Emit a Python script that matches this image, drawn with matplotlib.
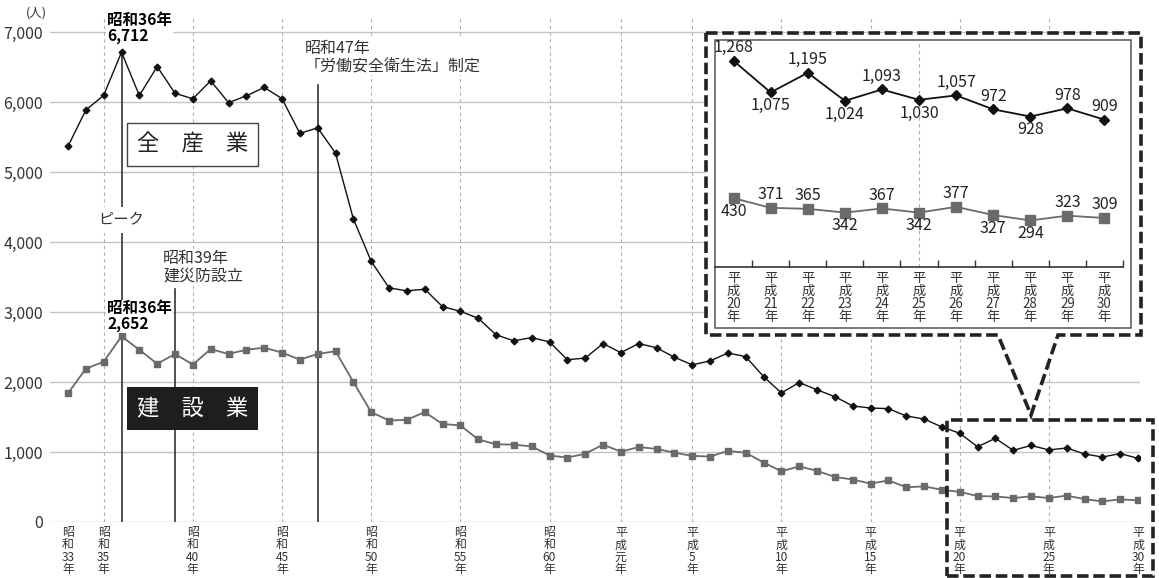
import numpy as np
import matplotlib
matplotlib.use("Agg")
import matplotlib.pyplot as plt
from matplotlib.patches import Polygon, Rectangle

plt.rcParams['font.family'] = ['Noto Sans CJK JP', 'DejaVu Sans']

# data (死亡者数)
years = np.arange(1958, 2019)
all_industry = [5368, 5885, 6095, 6712, 6093, 6506, 6124, 6046, 6303, 5990,
                6088, 6208, 6048, 5552, 5631, 5269, 4330, 3725, 3345, 3302,
                3326, 3077, 3009, 2912, 2674, 2588, 2635, 2572, 2318, 2342,
                2549, 2419, 2550, 2489, 2354, 2245, 2301, 2414, 2363, 2078,
                1844, 1992, 1889, 1790, 1658, 1628, 1620, 1514, 1472, 1357,
                1268, 1075, 1195, 1024, 1093, 1030, 1057, 972, 928, 978, 909]
construction = [1840, 2190, 2290, 2652, 2460, 2260, 2400, 2250, 2470, 2400,
                2460, 2490, 2420, 2320, 2400, 2440, 2000, 1570, 1450, 1460,
                1570, 1400, 1380, 1180, 1110, 1105, 1080, 950, 920, 975,
                1105, 1005, 1070, 1045, 990, 945, 935, 1015, 990, 850,
                725, 794, 731, 644, 607, 548, 594, 497, 508, 461,
                430, 371, 365, 342, 367, 342, 377, 327, 294, 323, 309]

tick_years = [1958, 1960, 1965, 1970, 1975, 1980, 1985, 1989, 1993, 1998, 2003, 2008, 2013, 2018]
tick_labels = ['昭和33年', '昭和35年', '昭和40年', '昭和45年', '昭和50年', '昭和55年', '昭和60年',
               '平成元年', '平成5年', '平成10年', '平成15年', '平成20年', '平成25年', '平成30年']

inset_labels = ['平成20年', '平成21年', '平成22年', '平成23年', '平成24年', '平成25年',
                '平成26年', '平成27年', '平成28年', '平成29年', '平成30年']
# label side: 1 above, -1 below
all_side = [1, -1, 1, -1, 1, -1, 1, 1, -1, 1, 1]
con_side = [-1, 1, 1, -1, 1, -1, 1, -1, -1, 1, 1]

W, H = 1159, 578


def px(x, y):
    return (x / W, 1 - y / H)


def vlabel(s):
    # 昭和33年 -> vertical stack, numbers kept horizontal
    return '\n'.join([s[0], s[1], s[2:-1], s[-1]])


BLACK = '#111111'
GRAY = '#6a6a6a'
TXT = '#333333'

fig = plt.figure(figsize=(W / 100, H / 100), dpi=100)
ax = fig.add_axes([50 / W, 56 / H, 1090 / W, 504 / H])
ax.set_xlim(1956.99, 2018.11)
ax.set_ylim(0, 7200)
for s in ax.spines.values():
    s.set_visible(False)

ax.set_yticks(range(0, 7001, 1000))
ax.set_yticklabels([f'{v:,}' for v in range(0, 7001, 1000)])
ax.tick_params(axis='y', length=0, pad=5, labelsize=11.5, labelcolor=TXT)
for v in range(0, 7001, 1000):
    ax.axhline(v, color='#c4c4c4', lw=1, zorder=1)

ax.set_xticks(tick_years)
ax.set_xticklabels([vlabel(t) for t in tick_labels], linespacing=0.92)
ax.tick_params(axis='x', length=0, pad=3, labelsize=8.6, labelcolor=TXT)
for t in tick_years[1:-1]:
    ax.axvline(t, color='#b0b0b0', lw=0.8, ls=(0, (3, 3)), zorder=1)

# event lines
ax.plot([1961, 1961], [0, 6712], color='#333333', lw=1.2, zorder=2)
ax.plot([1964, 1964], [0, 3330], color='#333333', lw=1.2, zorder=2)
ax.plot([1972, 1972], [0, 6240], color='#333333', lw=1.2, zorder=2)

ax.plot(years, all_industry, color=BLACK, lw=1, marker='D', ms=3.4, zorder=4)
ax.plot(years, construction, color=GRAY, lw=1.3, marker='s', ms=4.8, zorder=4)

wb = dict(facecolor='white', edgecolor='none', pad=0.5)
ax.text(1960.19, 7290, '昭和36年\n6,712', fontsize=11.2, fontweight='bold', va='top', ha='left',
        linespacing=1.0, bbox=wb, zorder=5, clip_on=False)
ax.text(1961, 4314, 'ピーク', fontsize=11, ha='center', va='center', color=TXT,
        bbox=dict(facecolor='white', edgecolor='none', pad=3), zorder=5)
ax.text(1960.19, 3175, '昭和36年\n2,652', fontsize=11.2, fontweight='bold', va='top', ha='left',
        linespacing=1.0, bbox=wb, zorder=5)
ax.text(1963.33, 3890, '昭和39年\n建災防設立', fontsize=11.5, va='top', ha='left', color=TXT,
        linespacing=1.05, bbox=wb, zorder=5)
ax.text(1971.29, 6890, '昭和47年\n「労働安全衛生法」制定', fontsize=11.5, va='top', ha='left', color=TXT,
        linespacing=1.05, bbox=wb, zorder=5)

ax.text(1965, 5393, '全\u3000産\u3000業', fontsize=16, ha='center', va='center', color='#222222',
        bbox=dict(facecolor='white', edgecolor='#444444', lw=1, boxstyle='square,pad=0.45'), zorder=5)
ax.text(1965, 1621, '建\u3000設\u3000業', fontsize=16, ha='center', va='center', color='white',
        bbox=dict(facecolor='#1e1e1e', edgecolor='none', boxstyle='square,pad=0.45'), zorder=5)

fig.text(*px(36, 13), '(人)', fontsize=9, ha='center', va='center', color=TXT)

# callout: dashed frame with pointer
dash = dict(ls=(0, (3.2, 1.3)), lw=2.6, edgecolor='#222222')
outer = Polygon([px(706, 33), px(1141, 33), px(1141, 335), px(1058, 335), px(1031, 415),
                 px(998, 335), px(706, 335)], closed=True, facecolor='white',
                transform=fig.transFigure, zorder=2, **dash)
fig.patches.append(outer)
low = Rectangle(px(947, 576), 206 / W, 156 / H, facecolor='none', transform=fig.transFigure,
                zorder=2, **dash)
fig.patches.append(low)
frame = Rectangle(px(715, 328), 416 / W, 288 / H, facecolor='white', edgecolor='#555555', lw=1.1,
                  transform=fig.transFigure, zorder=2.5)
fig.patches.append(frame)

# inset
ins = fig.add_axes([715 / W, (578 - 267) / H, 408 / W, 227 / H], zorder=3)
ins.patch.set_alpha(0)
iy = years[-11:]
ia = all_industry[-11:]
ic = construction[-11:]
ins.set_xlim(2007.5, 2018.5)
ins.set_ylim(10, 1395)
for k in ['left', 'right', 'top']:
    ins.spines[k].set_visible(False)
ins.spines['bottom'].set_color('#333333')
ins.spines['bottom'].set_linewidth(1.2)
ins.set_yticks([])
ins.set_xticks(iy)
ins.set_xticklabels([vlabel(t) for t in inset_labels], linespacing=0.9)
ins.set_xticks(iy + 0.5, minor=True)
ins.tick_params(axis='x', which='major', length=0, pad=3, labelsize=9.6, labelcolor=TXT)
ins.tick_params(axis='x', which='minor', direction='in', length=5, width=1, color='#333333')
ins.axvline(2013, color='#aaaaaa', lw=0.8, ls=(0, (3, 3)), zorder=1)
ins.plot(iy, ia, color=BLACK, lw=1.3, marker='D', ms=5.5, zorder=3)
ins.plot(iy, ic, color=GRAY, lw=1.3, marker='s', ms=7.5, zorder=3)
for x, v, s in zip(iy, ia, all_side):
    ins.annotate(f'{v:,}', (x, v), xytext=(0, 9.5 * s), textcoords='offset points',
                 ha='center', va='center', fontsize=11.5, color='#222222')
for x, v, s in zip(iy, ic, con_side):
    ins.annotate(f'{v:,}', (x, v), xytext=(0, 9.5 * s), textcoords='offset points',
                 ha='center', va='center', fontsize=11.5, color='#222222')

fig.savefig('out.png', dpi=100)
